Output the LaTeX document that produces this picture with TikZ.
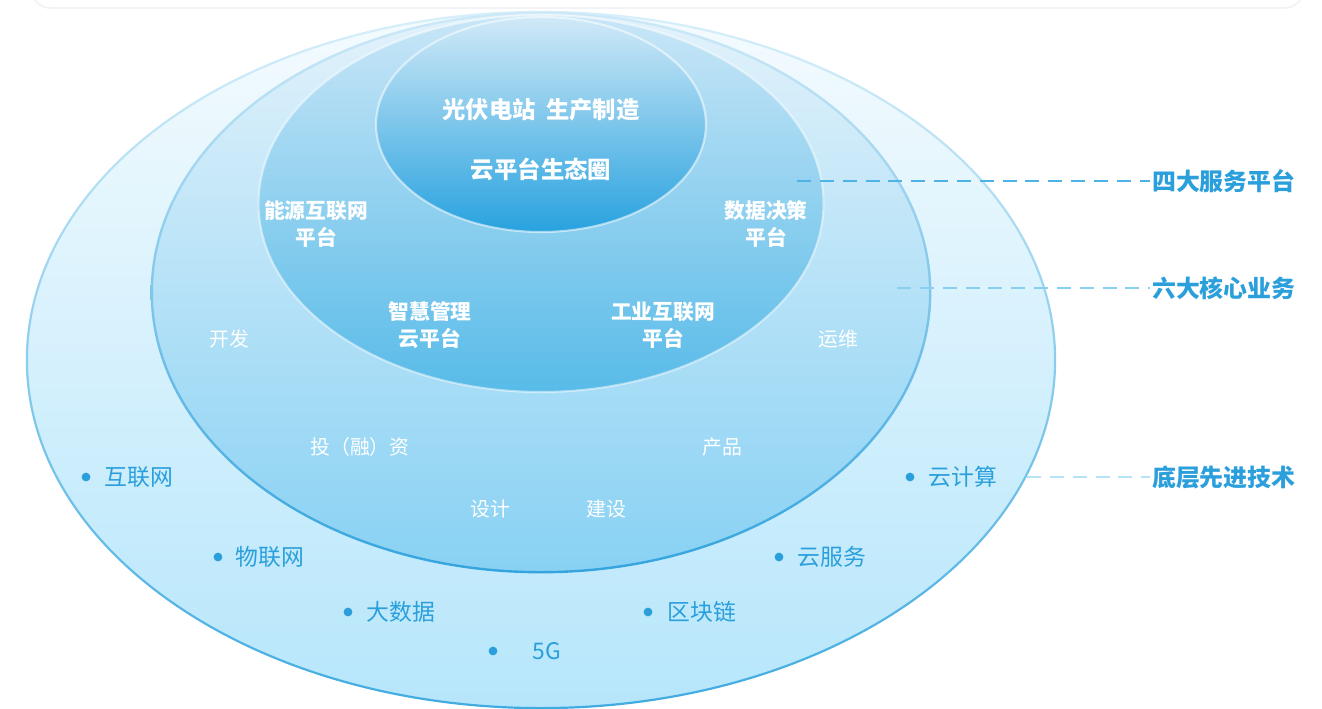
\documentclass[tikz,border=0pt]{standalone}
\usepackage{fontspec}
\setmainfont{Noto Sans CJK SC}
\usepackage{tikz}

\definecolor{ringblue}{HTML}{2A9FDC}
\definecolor{cardgray}{HTML}{F1F3F6}
\definecolor{outtop}{HTML}{F4FBFE}
\definecolor{outbot}{HTML}{B6E6FB}
\definecolor{outlinetop}{HTML}{D8EFFA}
\definecolor{outlinebot}{HTML}{40ABE0}
\definecolor{midtop}{HTML}{E2F2FB}
\definecolor{midbot}{HTML}{88D1F3}
\definecolor{midlinetop}{HTML}{CDE9F8}
\definecolor{midlinebot}{HTML}{34A4DE}
\definecolor{pfmtop}{HTML}{C8E6F7}
\definecolor{pfmbot}{HTML}{58BBE8}
\definecolor{coretop}{HTML}{D0E9F7}
\definecolor{corebot}{HTML}{28A2DF}
\definecolor{dashone}{HTML}{4DB3E6}
\definecolor{dashtwo}{HTML}{88CFF0}
\definecolor{dashthree}{HTML}{B7E3F8}

\begin{document}
\begin{tikzpicture}[x=0.02cm, y=0.02cm,
	coretext/.style={text=white,inner sep=0pt,font=\bfseries\fontsize{13.3}{16}\selectfont},
	pfmtext/.style={text=white,inner sep=0pt,align=center,font=\bfseries\fontsize{11.8}{15.3}\selectfont},
	biztext/.style={text=white,inner sep=0pt,font=\fontsize{11.3}{13}\selectfont},
	techtext/.style={text=ringblue,anchor=west,inner sep=0pt,font=\fontsize{13}{15}\selectfont},
	techdot/.style={circle,fill=ringblue,inner sep=0pt,minimum size=5pt},
	lvltext/.style={text=ringblue,anchor=west,inner sep=1pt,font=\bfseries\fontsize{13.6}{16}\selectfont},
	lvlline/.style={dash pattern=on 8pt off 5pt,line width=1.3pt}]
	\useasboundingbox (0,0) rectangle (1322,-708);
	% faint card edge on top
	\draw [cardgray, line width=1pt, rounded corners=12pt] (30,40) rectangle (1305,-8);
	% outer ring
	\shade [top color=outtop, bottom color=outbot] (541,-360) ellipse (514 and 348);
	\shade [even odd rule, top color=outlinetop, bottom color=outlinebot] (541,-360) ellipse (515.2 and 349.2) (541,-360) ellipse (513 and 347);
	% business ring
	\shade [top color=midtop, bottom color=midbot] (541,-292.5) ellipse (389 and 279.5);
	\shade [even odd rule, top color=midlinetop, bottom color=midlinebot] (541,-292.5) ellipse (390.4 and 280.9) (541,-292.5) ellipse (388 and 278.5);
	% platform ring
	\shade [top color=pfmtop, bottom color=pfmbot] (541,-203.5) ellipse (282.5 and 188.5);
	\draw [white, opacity=0.5, line width=1.2pt] (541,-203.5) ellipse (282.5 and 188.5);
	% core
	\shade [top color=coretop, bottom color=corebot] (541,-124.5) ellipse (165 and 107.5);
	\draw [white, opacity=0.55, line width=1.2pt] (541,-124.5) ellipse (165 and 107.5);

	\node [coretext] (pv) at (541,-110) {光伏电站\hspace{0.45em}生产制造};
	\node [coretext] (eco) at (541,-169) {云平台生态圈};

	\node [pfmtext] (nyhl) at (316,-224) {能源互联网\\平台};
	\node [pfmtext] (sjjc) at (766,-224) {数据决策\\平台};
	\node [pfmtext] (zhgl) at (430,-325) {智慧管理\\云平台};
	\node [pfmtext] (gyhl) at (663,-325) {工业互联网\\平台};

	\node [biztext] (kf) at (229,-339) {开发};
	\node [biztext] (yw) at (838,-339) {运维};
	\node [biztext] (trz) at (360,-447) {投（融）资};
	\node [biztext] (cp) at (722,-447) {产品};
	\node [biztext] (sj) at (490,-509) {设计};
	\node [biztext] (js) at (606,-509) {建设};

	\node [techdot] (d1) at (86,-477) {};
	\node [techtext] (hlw) at (104,-477) {互联网};
	\node [techdot] (d2) at (218,-557) {};
	\node [techtext] (wlw) at (235,-557) {物联网};
	\node [techdot] (d3) at (348,-612) {};
	\node [techtext] (dsj) at (366,-612) {大数据};
	\node [techdot] (d4) at (493,-651) {};
	\node [techtext] (fiveg) at (532,-651) {5G};
	\node [techdot] (d5) at (648,-612) {};
	\node [techtext] (qkl) at (667,-612) {区块链};
	\node [techdot] (d6) at (779,-557) {};
	\node [techtext] (yfw) at (797,-557) {云服务};
	\node [techdot] (d7) at (910,-477) {};
	\node [techtext] (yjs) at (928,-477) {云计算};

	\coordinate (s1) at (797,-181);
	\coordinate (s2) at (897,-288);
	\coordinate (s3) at (1027,-477);
	\node [lvltext] (lv1) at (1150,-181) {四大服务平台};
	\node [lvltext] (lv2) at (1150,-288) {六大核心业务};
	\node [lvltext] (lv3) at (1150,-477) {底层先进技术};
	\draw [lvlline, dashone] (s1) -- (lv1.west);
	\draw [lvlline, dashtwo] (s2) -- (lv2.west);
	\draw [lvlline, dashthree] (s3) -- (lv3.west);
\end{tikzpicture}
\end{document}
